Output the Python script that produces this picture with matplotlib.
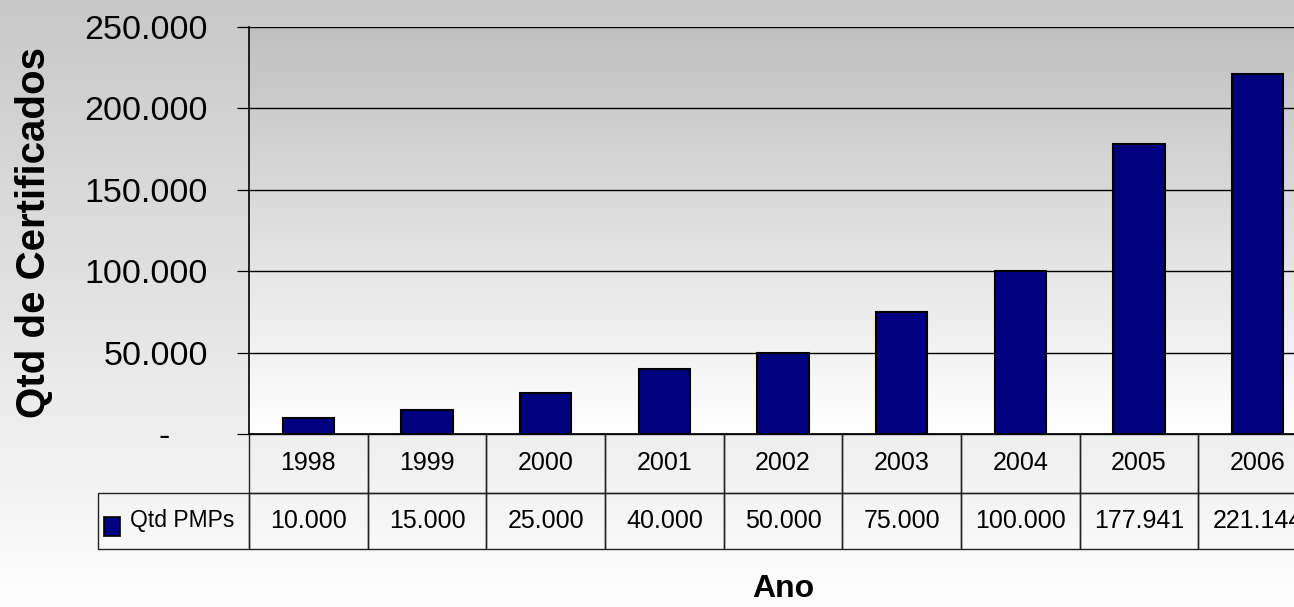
import numpy as np
import matplotlib
matplotlib.use("Agg")
from matplotlib import pyplot as plt
from matplotlib.colors import LinearSegmentedColormap
from matplotlib.patches import Rectangle
from matplotlib.ticker import FuncFormatter

years = ["1998", "1999", "2000", "2001", "2002", "2003", "2004", "2005", "2006"]
qtd_pmps = [10000, 15000, 25000, 40000, 50000, 75000, 100000, 177941, 221144]
series_name = "Qtd PMPs"
y_ticks = [0, 50000, 100000, 150000, 200000, 250000]

plt.rcParams["font.family"] = ["Liberation Sans", "DejaVu Sans"]


def fmt(v, pos=None):
    if v == 0:
        return "-    "
    return f"{int(v):,}".replace(",", ".")


fig = plt.figure(figsize=(12.94, 6.07), dpi=100)

# figure background gradient
bg = fig.add_axes([0, 0, 1, 1], zorder=-10)
grad = np.linspace(0, 1, 256).reshape(-1, 1)
bg.imshow(grad, cmap=LinearSegmentedColormap.from_list("figbg", ["#c8c8c8", "#fefefe"]),
          aspect="auto", extent=[0, 1, 0, 1], origin="upper")
bg.axis("off")

ax = fig.add_axes([249 / 1294, 1 - 434 / 607, 1068 / 1294, 407 / 607])
ax.set_facecolor("none")
x = np.arange(len(years))
ax.set_xlim(-0.5, len(years) - 0.5)
ax.set_ylim(0, 250000)

# plot area gradient
ax.imshow(grad, cmap=LinearSegmentedColormap.from_list("axbg", ["#c0c0c0", "#ffffff"]),
          aspect="auto", extent=[-0.5, len(years) - 0.5, 0, 250000],
          origin="upper", zorder=0)

ax.bar(x, qtd_pmps, width=0.43, color="#000080", edgecolor="black", linewidth=1.5, zorder=3)

ax.set_yticks(y_ticks)
ax.yaxis.set_major_formatter(FuncFormatter(fmt))
ax.tick_params(axis="y", direction="out", length=8.6, width=0.9, pad=20.9, labelsize=24.5)
ax.set_xticks([])
ax.yaxis.grid(True, color="black", linewidth=1, zorder=1)
ax.set_axisbelow(True)
for s in ["top", "right"]:
    ax.spines[s].set_visible(False)
for s in ["left", "bottom"]:
    ax.spines[s].set_linewidth(1.2)
    ax.spines[s].set_zorder(4)

# data table
cell_text = [[fmt(v) for v in qtd_pmps]]
rl_w = 151 / 1068
tbl = ax.table(cellText=cell_text, rowLabels=[series_name], colLabels=years,
               colWidths=[1 / len(years)] * len(years),
               cellLoc="center", rowLoc="right",
               bbox=[0, -115 / 407, 1, 115 / 407])
tbl._autoColumns = []
tbl.auto_set_font_size(False)
for (r, c), cell in tbl.get_celld().items():
    cell.set_facecolor("none")
    cell.set_edgecolor("#222222")
    cell.set_linewidth(1)
    cell.get_text().set_fontsize(18)
    if c == -1:
        cell.set_width(rl_w)
        cell.get_text().set_fontsize(16.5)
    cell.set_height(59 if r == 0 else 56)

# legend key inside the row label cell
ax.add_patch(Rectangle((-0.1358, -0.2506), 0.015, 0.0467, transform=ax.transAxes,
                       facecolor="#000080", edgecolor="black", linewidth=1.2,
                       clip_on=False, zorder=5))

ax.set_ylabel("Qtd de Certificados", fontsize=29, fontweight="bold")
ax.yaxis.set_label_coords(-0.2013, 0.496)
ax.yaxis.label.set_va("center")
ax.set_xlabel("Ano", fontsize=23, fontweight="bold")
ax.xaxis.set_label_coords(0.5, -0.381)
ax.xaxis.label.set_va("center")

fig.savefig("out.png", dpi=100)
